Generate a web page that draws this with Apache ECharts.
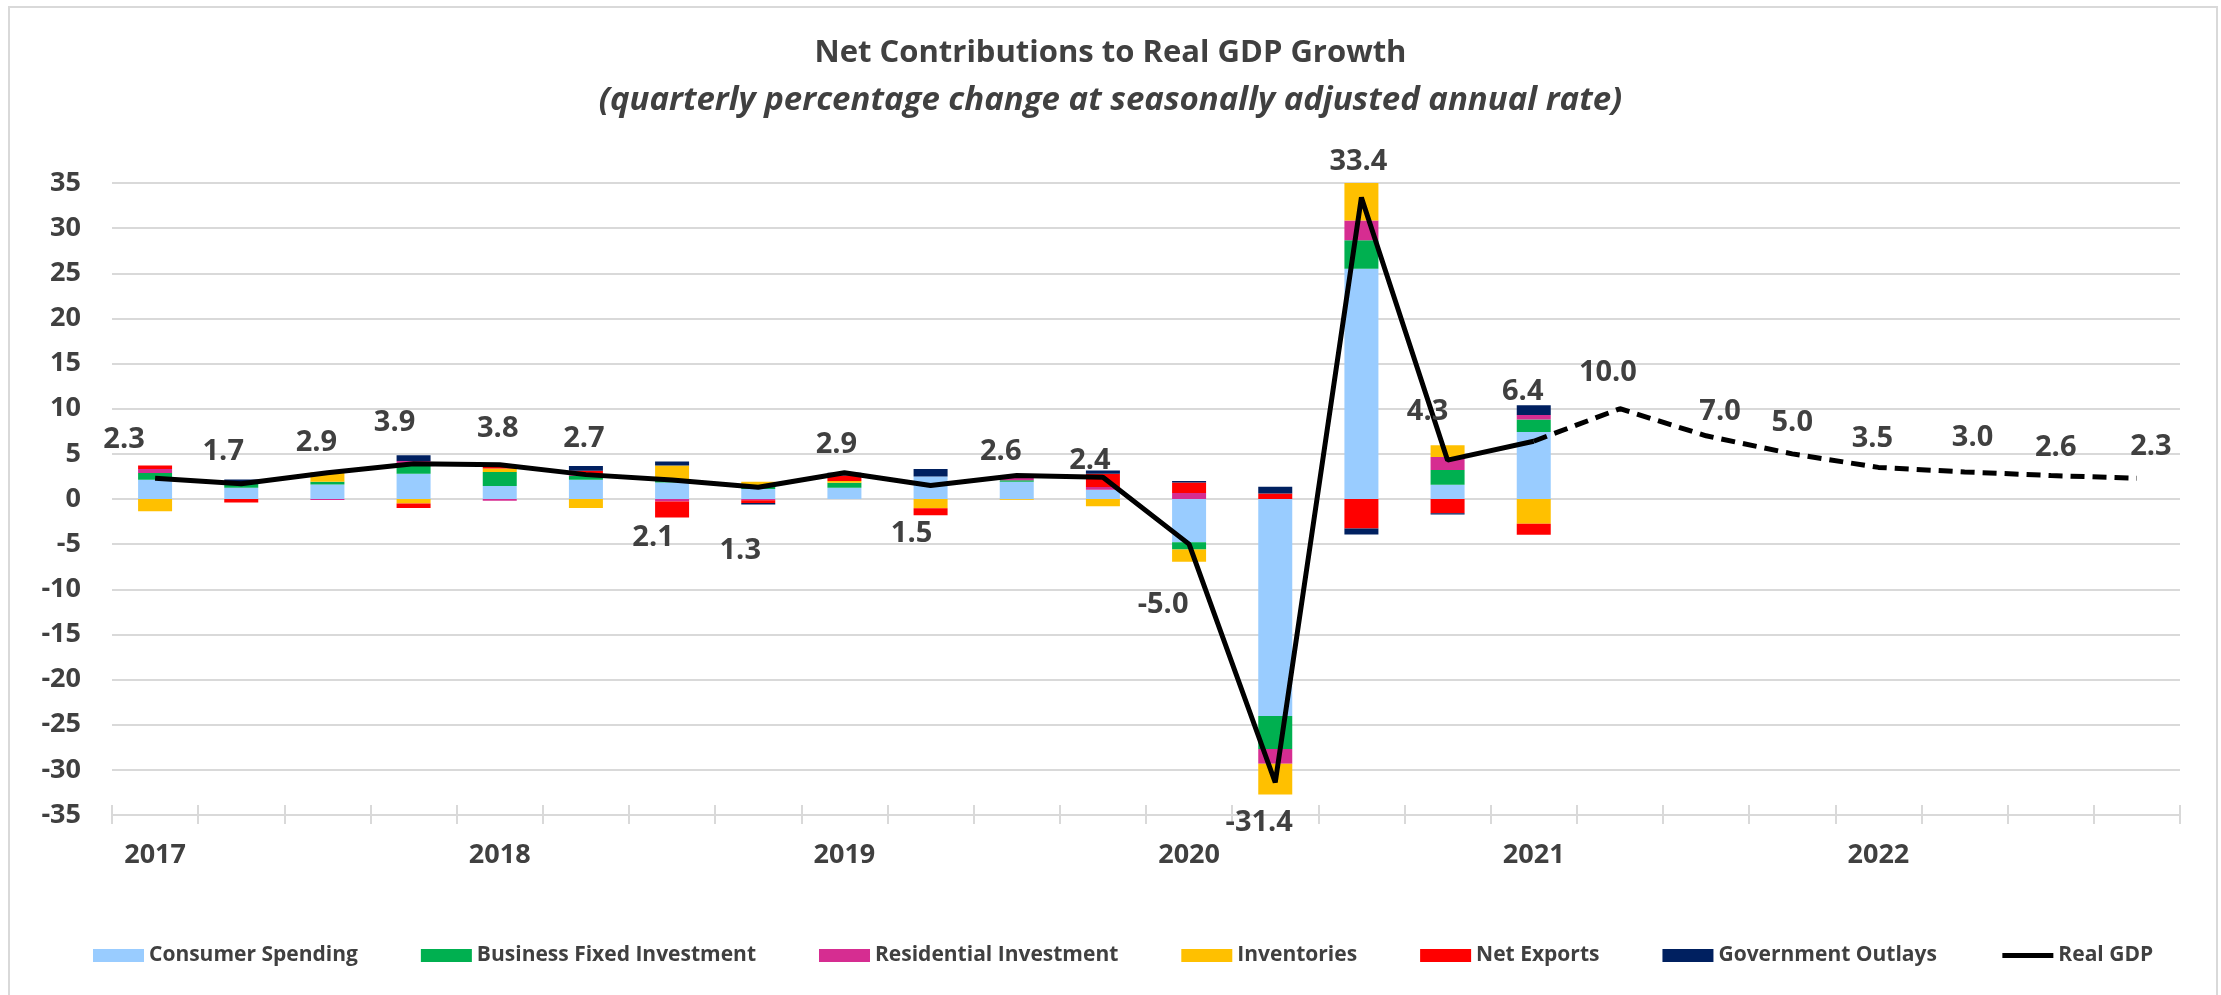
<!DOCTYPE html>
<html>
<head>
<meta charset="utf-8">
<script src="https://cdn.jsdelivr.net/npm/echarts@6/dist/echarts.min.js"></script>
<style>
  html, body { margin: 0; padding: 0; background: #ffffff; }
  #chart { width: 2221px; height: 995px; }
</style>
</head>
<body>
<div id="chart"></div>
<script>
// Quarterly categories, 2017 Q1 through 2022 Q4
const quarters = [
  '2017 Q1', '2017 Q2', '2017 Q3', '2017 Q4',
  '2018 Q1', '2018 Q2', '2018 Q3', '2018 Q4',
  '2019 Q1', '2019 Q2', '2019 Q3', '2019 Q4',
  '2020 Q1', '2020 Q2', '2020 Q3', '2020 Q4',
  '2021 Q1', '2021 Q2', '2021 Q3', '2021 Q4',
  '2022 Q1', '2022 Q2', '2022 Q3', '2022 Q4'
];

// Contributions in percentage points (2017 Q1 .. 2021 Q1)
const consumerSpending = [2.13, 1.25, 1.6, 2.8, 1.45, 2.13, 1.84, 1.1, 1.25, 2.5, 1.9, 1.03, -4.78, -24.03, 25.51, 1.58, 7.43];
const businessFixed    = [0.74, 0.4, 0.3, 0.85, 1.55, 0.44, 0.18, 0.45, 0.55, 0, 0.18, 0, -0.81, -3.67, 3.16, 1.63, 1.37];
const residential      = [0.44, 0, -0.1, 0.55, -0.18, 0.2, -0.29, -0.15, 0, 0, 0.3, 0.29, 0.66, -1.63, 2.19, 1.43, 0.51];
const inventories      = [-1.36, 0.2, 1.05, -0.51, 0.37, -0.99, 1.69, 0.35, 0.2, -1.03, -0.07, -0.81, -1.36, -3.41, 6.46, 1.32, -2.75];
const netExports       = [0.4, -0.4, 0, -0.48, 0.29, 0.37, -1.76, -0.3, 0.6, -0.77, 0, 1.47, 1.18, 0.61, -3.26, -1.58, -1.22];
const government       = [0, 0.3, 0, 0.65, 0, 0.51, 0.44, -0.15, 0.3, 0.81, 0, 0.37, 0.15, 0.76, -0.66, -0.15, 1.07];

// Real GDP growth: actuals through 2021 Q1, projections afterwards
const realGdp = [2.3, 1.7, 2.9, 3.9, 3.8, 2.7, 2.1, 1.3, 2.9, 1.5, 2.6, 2.4, -5.0, -31.4, 33.4, 4.3, 6.4,
                 10.0, 7.0, 5.0, 3.5, 3.0, 2.6, 2.3];
const lastActual = 16;

const yTicks = { min: -35, max: 35, step: 5 };

// Where each GDP value label sits relative to its point (px)
const gdpLabelOffsets = [
  [-31, -38], [-18, -32], [-11, -30], [-19, -41], [-2, -36], [-2, -36], [-19, 58], [-18, 63],
  [-8, -28], [-19, 48], [-16, -24], [-13, -17], [-26, 61], [-16, 40], [-3, -36], [-20, -48],
  [-11, -49], [-12, -36], [14, -24], [0, -31], [-6, -29], [8, -34], [5, -28], [14, -31]
];

const FONT = '"Open Sans", "Liberation Sans", sans-serif';
const TEXT = '#404040';
const GRID_LINE = '#d9d9d9';
const GDP_WIDTH = 5;

const barDefs = [
  ['Consumer Spending', consumerSpending, '#99ccff'],
  ['Business Fixed Investment', businessFixed, '#00b050'],
  ['Residential Investment', residential, '#d62d91'],
  ['Inventories', inventories, '#ffc000'],
  ['Net Exports', netExports, '#ff0000'],
  ['Government Outlays', government, '#002060']
];

const barSeries = barDefs.map(([name, values, color]) => ({
  name: name,
  type: 'bar',
  stack: 'contrib',
  barWidth: 34,
  data: values,
  itemStyle: { color: color },
  emphasis: { disabled: true }
}));

const gdpLabel = {
  show: true,
  position: 'inside',
  formatter: p => Number(p.value).toFixed(1),
  fontFamily: FONT,
  fontSize: 29,
  fontWeight: 'bold',
  color: TEXT
};

const solidData = realGdp.map((v, i) => i <= lastActual
  ? { value: v, label: { offset: gdpLabelOffsets[i] } } : null);
const dashedData = realGdp.map((v, i) => i < lastActual ? null
  : (i === lastActual ? { value: v, label: { show: false } } : { value: v, label: { offset: gdpLabelOffsets[i] } }));

const lineCommon = {
  type: 'line',
  symbol: 'circle',
  symbolSize: 2,
  showSymbol: true,
  itemStyle: { color: 'rgba(0,0,0,0)' },
  label: gdpLabel,
  z: 5,
  emphasis: { disabled: true },
  connectNulls: false
};

const chart = echarts.init(document.getElementById('chart'), null, { renderer: 'canvas' });

chart.setOption({
  backgroundColor: '#ffffff',
  animation: false,
  textStyle: { fontFamily: FONT },
  title: {
    text: 'Net Contributions to Real GDP Growth',
    subtext: '(quarterly percentage change at seasonally adjusted annual rate)',
    left: 'center',
    top: 33,
    itemGap: 15,
    textStyle: { fontFamily: FONT, fontSize: 31, fontWeight: 'bold', color: TEXT },
    subtextStyle: { fontFamily: FONT, fontSize: 33, fontWeight: 'bold', fontStyle: 'italic', color: TEXT }
  },
  legend: {
    left: 88,
    top: 940,
    itemWidth: 51,
    itemHeight: 13,
    itemGap: 63,
    selectedMode: false,
    textStyle: { fontFamily: FONT, fontSize: 21, fontWeight: 'bold', color: TEXT },
    data: [
      { name: 'Consumer Spending', icon: 'rect' },
      { name: 'Business Fixed Investment', icon: 'rect' },
      { name: 'Residential Investment', icon: 'rect' },
      { name: 'Inventories', icon: 'rect' },
      { name: 'Net Exports', icon: 'rect' },
      { name: 'Government Outlays', icon: 'rect' },
      { name: 'Real GDP', lineStyle: { color: '#000000', width: GDP_WIDTH } }
    ]
  },
  grid: { left: 112, right: 41, top: 183, bottom: 180, containLabel: false },
  xAxis: [
    {
      type: 'category',
      data: quarters,
      boundaryGap: true,
      axisLine: { show: true, onZero: false, lineStyle: { color: GRID_LINE, width: 2 } },
      axisTick: { show: true, interval: 0, length: 9, lineStyle: { color: GRID_LINE, width: 2 } },
      axisLabel: {
        interval: 0,
        margin: 27,
        formatter: q => q.endsWith('Q1') ? q.slice(0, 4) : '',
        fontFamily: FONT, fontSize: 27, fontWeight: 'bold', color: TEXT
      },
      splitLine: { show: false }
    },
    {
      type: 'category',
      data: quarters,
      position: 'bottom',
      gridIndex: 0,
      boundaryGap: true,
      axisLine: { show: false, onZero: false },
      axisTick: { show: true, inside: true, interval: 0, length: 10, lineStyle: { color: GRID_LINE, width: 2 } },
      axisLabel: { show: false },
      splitLine: { show: false }
    }
  ],
  yAxis: {
    type: 'value',
    min: yTicks.min,
    max: yTicks.max,
    interval: yTicks.step,
    axisLine: { show: false },
    axisTick: { show: false },
    axisLabel: { margin: 31, fontFamily: FONT, fontSize: 27, fontWeight: 'bold', color: TEXT },
    splitLine: { show: true, lineStyle: { color: GRID_LINE, width: 2 } }
  },
  graphic: [
    {
      type: 'rect',
      shape: { x: 9, y: 7, width: 2208, height: 1000 },
      style: { fill: 'none', stroke: GRID_LINE, lineWidth: 2 },
      silent: true,
      z: -1
    }
  ],
  series: barSeries.concat([
    Object.assign({}, lineCommon, {
      name: 'Real GDP',
      data: solidData,
      lineStyle: { color: '#000000', width: GDP_WIDTH }
    }),
    Object.assign({}, lineCommon, {
      name: 'Real GDP projection',
      data: dashedData,
      lineStyle: { color: '#000000', width: GDP_WIDTH, type: [14, 8] }
    })
  ])
});
</script>
</body>
</html>
